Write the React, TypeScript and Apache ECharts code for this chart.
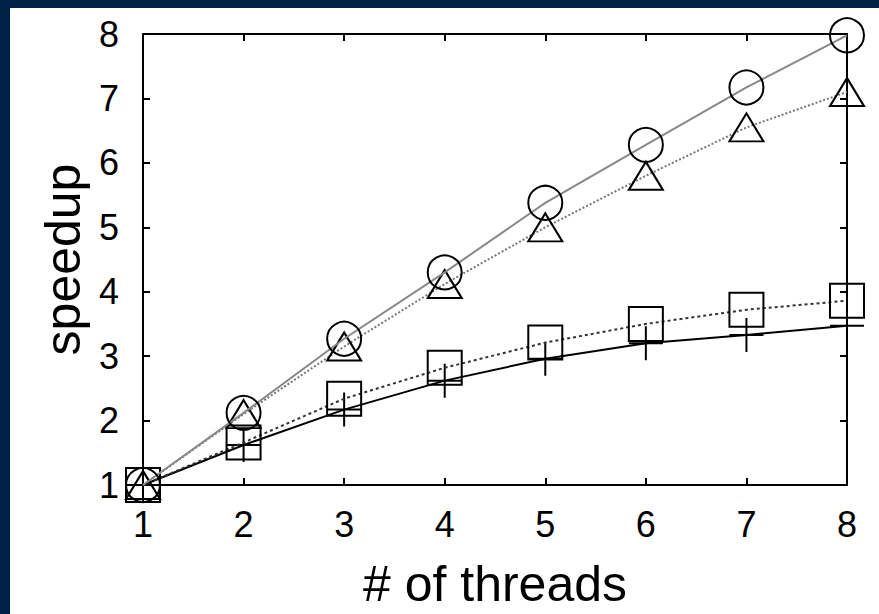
import React, { useEffect, useRef } from "react";
import * as echarts from "echarts";

const threads = [1, 2, 3, 4, 5, 6, 7, 8];
const circleSeries = [1, 2.12, 3.27, 4.3, 5.38, 6.28, 7.17, 7.98];
const triangleSeries = [1, 2.1, 3.15, 4.12, 5.0, 5.8, 6.55, 7.1];
const squareSeries = [1, 1.66, 2.34, 2.82, 3.21, 3.5, 3.72, 3.86];
const plusSeries = [1, 1.62, 2.17, 2.62, 2.96, 3.2, 3.33, 3.47];
const xTicks = [1, 2, 3, 4, 5, 6, 7, 8];
const yTicks = [1, 2, 3, 4, 5, 6, 7, 8];

const FONT = "'Liberation Sans', Arial, Helvetica, sans-serif";

export default function App() {
  const ref = useRef<HTMLDivElement>(null);
  useEffect(() => {
    document.body.style.margin = "0";
    const chart = echarts.init(ref.current!, undefined, { renderer: "svg" });
    const pairs = (ys: number[]) => threads.map((t, i) => [t, ys[i]]);
    const axisCommon = {
      type: "value" as const,
      min: 1,
      max: 8,
      interval: 1,
      axisLine: { show: true, lineStyle: { color: "#000", width: 2 } },
      axisTick: { show: true, inside: true, length: 7, lineStyle: { color: "#000", width: 2 } },
      splitLine: { show: false },
    };
    const markerStyle = { color: "none", borderColor: "#000", borderWidth: 2 };
    chart.setOption({
      animation: false,
      backgroundColor: "#fff",
      grid: { left: 133, right: 32, top: 26, bottom: 127, containLabel: false },
      xAxis: [
        {
          ...axisCommon,
          position: "bottom",
          name: "# of threads",
          nameLocation: "middle",
          nameGap: 74,
          nameTextStyle: { fontFamily: FONT, fontSize: 50, color: "#000" },
          axisLabel: {
            fontFamily: FONT,
            fontSize: 36,
            color: "#000",
            margin: 21,
            formatter: (v: number) => (xTicks.includes(v) ? String(v) : ""),
          },
        },
        { ...axisCommon, position: "top", axisLabel: { show: false } },
      ],
      yAxis: [
        {
          ...axisCommon,
          position: "left",
          name: "speedup",
          nameLocation: "middle",
          nameGap: 49,
          nameRotate: 90,
          nameTextStyle: { fontFamily: FONT, fontSize: 50, color: "#000" },
          axisLabel: {
            fontFamily: FONT,
            fontSize: 36,
            color: "#000",
            margin: 24,
            formatter: (v: number) => (yTicks.includes(v) ? String(v) : ""),
          },
        },
        { ...axisCommon, position: "right", axisLabel: { show: false } },
      ],
      series: [
        {
          type: "line",
          data: pairs(plusSeries),
          symbol: "path://M0,0 L0,20 M-10,10 L10,10",
          symbolSize: [34, 34],
          itemStyle: markerStyle,
          lineStyle: { color: "#000", width: 2, type: "solid" },
          z: 3,
        },
        {
          type: "line",
          data: pairs(squareSeries),
          symbol: "rect",
          symbolSize: 34,
          itemStyle: markerStyle,
          lineStyle: { color: "#333", width: 2, type: [3, 3] },
          z: 4,
        },
        {
          type: "line",
          data: pairs(triangleSeries),
          symbol: "triangle",
          symbolSize: [34, 28],
          itemStyle: markerStyle,
          lineStyle: { color: "#777", width: 2, type: [2, 2] },
          z: 5,
        },
        {
          type: "line",
          data: pairs(circleSeries),
          symbol: "circle",
          symbolSize: 34,
          itemStyle: markerStyle,
          lineStyle: { color: "#888", width: 2, type: "solid" },
          z: 6,
        },
      ],
    });
    return () => chart.dispose();
  }, []);
  return (
    <div
      style={{
        position: "fixed",
        left: 0,
        top: 0,
        width: 879,
        height: 614,
        background: "#012149",
      }}
    >
      <div
        ref={ref}
        style={{ position: "absolute", left: 10, top: 8, width: 869, height: 606 }}
      />
    </div>
  );
}
